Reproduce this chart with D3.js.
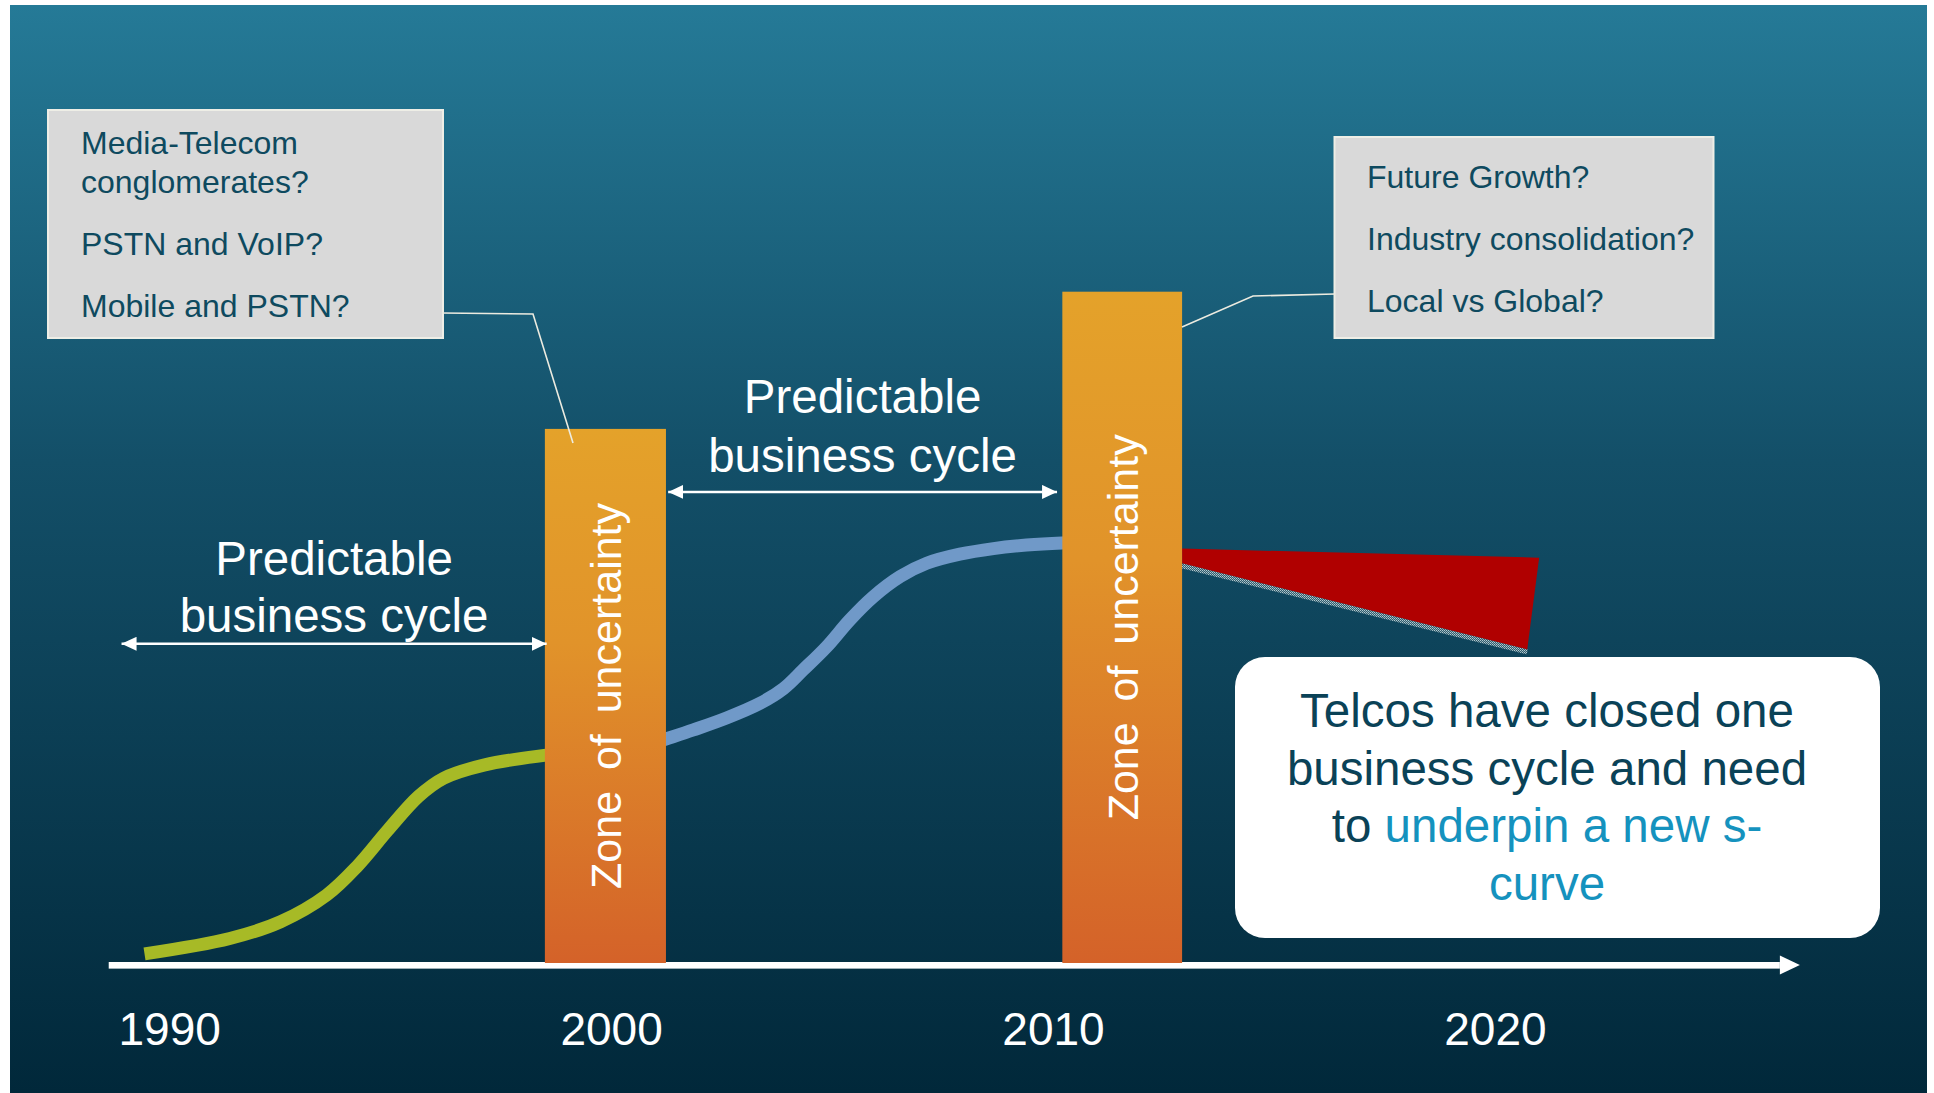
<!DOCTYPE html>
<html><head><meta charset="utf-8">
<script src="https://cdn.jsdelivr.net/npm/d3@7"></script>
<style>html,body{margin:0;padding:0;background:#fff;} svg{display:block;}</style>
</head><body>
<svg id="chart" width="1934" height="1093"></svg>
<script>
// ---------- DATA ----------
const tickYears = [1990, 2000, 2010, 2020];
const axisYears = [1988.62, 2026.89];

const cycle1Years  = [1989.43, 1991.36, 1992.51, 1993.55, 1994.24, 1994.94, 1995.63, 1996.2, 1997.13, 1998.52, 1999.8];
const cycle1Values = [1.3, 3.5, 5.9, 9.7, 13.8, 19.0, 23.8, 26.4, 28.3, 29.7, 30.6];

const cycle2Years  = [2000.6, 2001.23, 2001.85, 2002.6, 2003.36, 2003.89, 2004.34, 2004.87, 2005.39, 2005.92, 2006.53, 2007.13, 2007.88, 2008.64, 2009.39, 2010.19, 2010.8];
const cycle2Values = [30.7, 32.0, 33.3, 35.0, 37.1, 39.2, 41.9, 45.2, 49.0, 52.3, 55.2, 57.1, 58.4, 59.2, 59.7, 60.0, 60.1];

const zoneStart = [1998.49, 2010.20];
const zoneEnd   = [2001.23, 2012.91];
const zoneTop   = [76.3, 95.9];
const zoneLabel = "Zone of uncertainty";

const wedgeYears  = [2012.91, 2020.99, 2020.72, 2012.91];
const wedgeValues = [59.2, 57.9, 44.8, 57.1];

const cycleArrowFrom  = [1988.91, 2001.28];
const cycleArrowTo    = [1998.53, 2010.08];
const cycleArrowValue = [45.6, 67.3];
const cycleLabel = ["Predictable", "business cycle"];

const leftQuestions  = [["Media-Telecom", "conglomerates?"], ["PSTN and VoIP?"], ["Mobile and PSTN?"]];
const rightQuestions = [["Future Growth?"], ["Industry consolidation?"], ["Local vs Global?"]];

// ---------- SETUP ----------
const svg = d3.select("#chart");
const FONT = "'Liberation Sans', Arial, Helvetica, sans-serif";
const x = d3.scaleLinear().domain([1990, 2020]).range([169.7, 1495.4]);
const y = d3.scaleLinear().domain([0, 100]).range([963, 263]);

const defs = svg.append("defs");
const bg = defs.append("linearGradient").attr("id", "bg").attr("x1", 0).attr("y1", 0).attr("x2", 0).attr("y2", 1);
bg.append("stop").attr("offset", 0).attr("stop-color", "#257a97");
bg.append("stop").attr("offset", 0.42).attr("stop-color", "#134f68");
bg.append("stop").attr("offset", 1).attr("stop-color", "#01283a");

const bar = defs.append("linearGradient").attr("id", "bar").attr("x1", 0).attr("y1", 0).attr("x2", 0).attr("y2", 1);
bar.append("stop").attr("offset", 0).attr("stop-color", "#e4a22a");
bar.append("stop").attr("offset", 0.4).attr("stop-color", "#e1932a");
bar.append("stop").attr("offset", 1).attr("stop-color", "#d46229");

const dots = defs.append("pattern").attr("id", "dots").attr("patternUnits", "userSpaceOnUse")
  .attr("width", 2).attr("height", 2);
dots.append("rect").attr("width", 2).attr("height", 2).attr("fill", "#2f5f70");
dots.append("rect").attr("width", 1).attr("height", 1).attr("fill", "#b7c9cf");
dots.append("rect").attr("x", 1).attr("y", 1).attr("width", 1).attr("height", 1).attr("fill", "#8fa9b2");

const head = defs.append("marker").attr("id", "head").attr("markerUnits", "userSpaceOnUse")
  .attr("viewBox", "0 0 15 14").attr("markerWidth", 15).attr("markerHeight", 14)
  .attr("refX", 15).attr("refY", 7).attr("orient", "auto-start-reverse");
head.append("path").attr("d", "M0,0 L15,7 L0,14 Z").attr("fill", "#fff");

// background panel
svg.append("rect").attr("x", 10).attr("y", 5).attr("width", 1917).attr("height", 1088).attr("fill", "url(#bg)");

// ---------- CURVES ----------
const line = d3.line().x(d => x(d[0])).y(d => y(d[1])).curve(d3.curveCatmullRom.alpha(0.5));
svg.append("path").datum(cycle1Years.map((t, i) => [t, cycle1Values[i]]))
  .attr("d", line).attr("fill", "none").attr("stroke", "#a7ba26").attr("stroke-width", 13);
svg.append("path").datum(cycle2Years.map((t, i) => [t, cycle2Values[i]]))
  .attr("d", line).attr("fill", "none").attr("stroke", "#7099c8").attr("stroke-width", 13);

// forecast wedge
const wedgePts = wedgeYears.map((t, i) => [x(t), y(wedgeValues[i])]);
svg.append("line")
  .attr("x1", wedgePts[3][0]).attr("y1", wedgePts[3][1] + 2.5)
  .attr("x2", wedgePts[2][0]).attr("y2", wedgePts[2][1] + 2.5)
  .attr("stroke", "url(#dots)").attr("stroke-width", 5);
svg.append("path").attr("d", d3.line().curve(d3.curveLinearClosed)(wedgePts)).attr("fill", "#b00000");

// ---------- AXIS ----------
const axY = y(0) + 2;
svg.append("line").attr("x1", x(axisYears[0])).attr("x2", x(axisYears[1]) - 20)
  .attr("y1", axY).attr("y2", axY).attr("stroke", "#fff").attr("stroke-width", 6);
svg.append("line").attr("x1", x(axisYears[0])).attr("x2", x(axisYears[1]) - 20)
  .attr("y1", axY + 3.5).attr("y2", axY + 3.5).attr("stroke", "#9fb0b8").attr("stroke-width", 1);
svg.append("path")
  .attr("d", `M${x(axisYears[1]) - 20},${axY - 9.5} L${x(axisYears[1])},${axY} L${x(axisYears[1]) - 20},${axY + 9.5} Z`)
  .attr("fill", "#fff");

svg.append("g").selectAll("text").data(tickYears).join("text")
  .attr("x", d => x(d)).attr("y", 1045).attr("text-anchor", "middle")
  .attr("font-family", FONT).attr("font-size", 46).attr("fill", "#fff").text(d => d);

// ---------- ZONES ----------
const zones = zoneStart.map((s, i) => ({ s, e: zoneEnd[i], top: zoneTop[i] }));
svg.append("g").selectAll("rect").data(zones).join("rect")
  .attr("x", d => x(d.s)).attr("width", d => x(d.e) - x(d.s))
  .attr("y", d => y(d.top)).attr("height", d => y(0) - y(d.top))
  .attr("fill", "url(#bar)");

const zt = svg.append("g").selectAll("text").data(zones).join("text")
  .attr("transform", d => `translate(${(x(d.s) + x(d.e)) / 2 + 16},${(y(d.top) + y(0)) / 2}) rotate(-90)`)
  .attr("text-anchor", "middle").attr("font-family", FONT).attr("font-size", 43)
  .attr("fill", "#fff").text(zoneLabel);
zt.each(function () {
  const L = this.getComputedTextLength();
  d3.select(this).attr("word-spacing", Math.max(0, (386 - L) / 2));
});

// ---------- CYCLE ARROWS ----------
cycleArrowFrom.forEach((f, i) => {
  const x1 = x(f), x2 = x(cycleArrowTo[i]), yy = y(cycleArrowValue[i]);
  svg.append("line").attr("x1", x1).attr("x2", x2).attr("y1", yy).attr("y2", yy)
    .attr("stroke", "#fff").attr("stroke-width", 2.5)
    .attr("marker-start", "url(#head)").attr("marker-end", "url(#head)");
  const cx = (x1 + x2) / 2;
  const base = i === 0 ? yy - 69 : yy - 79;
  const gap = i === 0 ? 57 : 59;
  cycleLabel.forEach((t, j) => {
    svg.append("text").attr("x", cx).attr("y", base + j * gap).attr("text-anchor", "middle")
      .attr("font-family", FONT).attr("font-size", 47.5).attr("fill", "#fff").text(t);
  });
});

// ---------- QUESTION BOXES ----------
function qbox(bx, by, bw, bh, tx, firstBase, items) {
  svg.append("rect").attr("x", bx).attr("y", by).attr("width", bw).attr("height", bh)
    .attr("fill", "#d9d9d9").attr("stroke", "#eeeee6").attr("stroke-width", 2);
  let yy = firstBase;
  items.forEach(lines => {
    lines.forEach((t, k) => {
      svg.append("text").attr("x", tx).attr("y", yy + k * 39).attr("font-family", FONT)
        .attr("font-size", 32).attr("fill", "#0e4a5f").text(t);
    });
    yy += (lines.length - 1) * 39 + 62;
  });
}
qbox(48, 110, 395, 228, 81, 154, leftQuestions);
qbox(1334.5, 137, 379, 201, 1367, 188, rightQuestions);

// callout lines
svg.append("polyline").attr("points", "442,313 533,314 573,443")
  .attr("fill", "none").attr("stroke", "#ecebe0").attr("stroke-width", 1.6);
svg.append("polyline").attr("points", "1335,294 1253,296 1182,327")
  .attr("fill", "none").attr("stroke", "#ecebe0").attr("stroke-width", 1.6);

// ---------- MESSAGE BOX ----------
svg.append("rect").attr("x", 1235).attr("y", 657).attr("width", 645).attr("height", 281)
  .attr("rx", 30).attr("ry", 30).attr("fill", "#fff");
const msg = [
  [["Telcos have closed one", "#0a4257"]],
  [["business cycle and need", "#0a4257"]],
  [["to ", "#0a4257"], ["underpin a new s-", "#1592be"]],
  [["curve", "#1592be"]]
];
msg.forEach((parts, i) => {
  const t = svg.append("text").attr("x", 1547).attr("y", 727 + i * 57.5).attr("text-anchor", "middle")
    .attr("font-family", FONT).attr("font-size", 47.5);
  parts.forEach(p => t.append("tspan").attr("fill", p[1]).text(p[0]));
});
</script>
</body></html>
